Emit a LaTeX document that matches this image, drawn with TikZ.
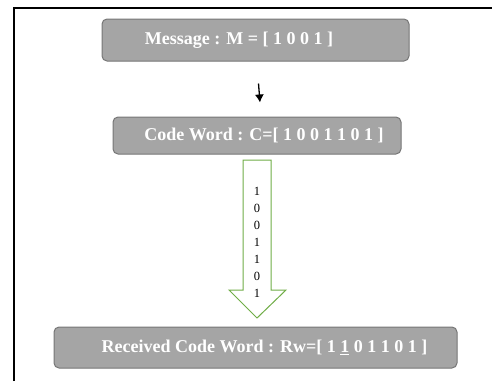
\documentclass[tikz,border=0pt]{standalone}
\usepackage{fontspec}
\setmainfont{Liberation Serif}
\usetikzlibrary{positioning,arrows.meta}
\definecolor{boxgray}{RGB}{165,165,165}
\definecolor{edgegray}{RGB}{118,118,118}
\definecolor{arrgreen}{RGB}{112,173,71}

\begin{document}
\begin{tikzpicture}[x=1pt,y=-1pt,
        stagebox/.style={draw=edgegray, line width=1pt, fill=boxgray, rounded corners=5pt,
          text=white, font=\fontsize{18}{20}\selectfont\bfseries, inner sep=0pt}]
        \useasboundingbox (0,0) rectangle (492,381);
        % frame
        \draw[line width=1.5pt] (14,381) -- (14,8) -- (492,8);
        % boxes
        \node[stagebox, minimum width=307pt, minimum height=42pt] (msg) at (255.5,40)
          {Message : M = [ 1 0 0 1 ]\hspace*{33pt}};
        \node[stagebox, minimum width=288pt, minimum height=37pt] (code) at (257,135.5)
          {\hspace*{14pt}Code Word : C=[ 1 0 0 1 1 0 1 ]};
        \node[stagebox, minimum width=403pt, minimum height=41pt] (recv) at (255.5,347.5)
          {\hspace*{18pt}Received Code Word : Rw=[ 1 \underline{1} 0 1 1 0 1 ]};
        \coordinate (atop) at ([xshift=3pt,yshift=-22pt]msg.south);
        \coordinate (abot) at ([xshift=3pt,yshift=14pt]code.north);
        \draw[line width=1.3pt, -{Latex[length=8pt,width=9pt]}] (atop) -- (abot);
        % transmitted bits
        \draw[arrgreen, line width=1pt, fill=white] (243,160) -- (271,160) -- (271,290) -- (286,290)
          -- (257,318) -- (229,290) -- (243,290) -- cycle;
        \node[align=center, font=\fontsize{12.5}{17}\selectfont] (bits) at (257,242.5)
          {1\\0\\0\\1\\1\\0\\1};
\end{tikzpicture}
\end{document}
